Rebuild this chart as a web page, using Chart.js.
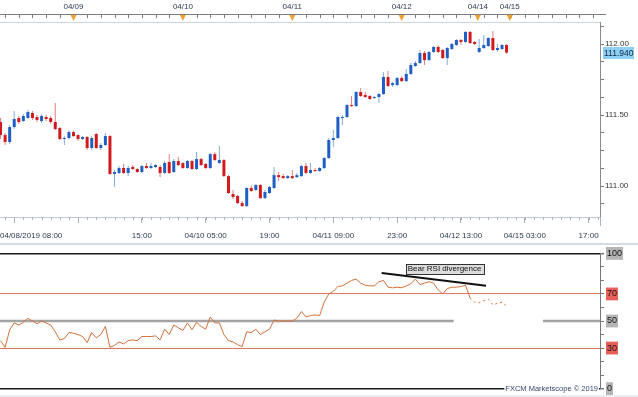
<!DOCTYPE html>
<html><head><meta charset="utf-8">
<script src="https://cdn.jsdelivr.net/npm/chart.js@4.4.1/dist/chart.umd.min.js"></script>
<style>
html,body{margin:0;padding:0;background:#fff;overflow:hidden}
#wrap{position:relative;width:638px;height:397px;background:#fff}
#c1{position:absolute;left:0;top:0}
#c2{position:absolute;left:0;top:245px}
</style></head><body>
<div id="wrap"><canvas id="c1" width="638" height="245"></canvas><canvas id="c2" width="638" height="152"></canvas></div>
<script>
// ---- data (hourly candles, index 0 = 04/08/2019 08:00, weekend skipped) ----
const open = [
111.451,111.359,111.310,111.415,111.479,111.458,111.479,111.514,111.486,111.458,
111.486,111.479,111.451,111.408,111.331,111.338,111.380,111.359,111.331,111.345,
111.268,111.366,111.268,111.289,111.352,111.085,111.092,111.127,111.092,111.134,
111.120,111.099,111.141,111.127,111.134,111.134,111.092,111.169,111.099,111.176,
111.162,111.127,111.176,111.120,111.190,111.155,111.127,111.225,111.162,111.183,
111.070,110.944,110.930,110.880,110.859,110.986,110.972,111.007,110.915,110.951,
110.986,111.077,111.070,111.056,111.070,111.063,111.070,111.141,111.092,111.113,
111.106,111.127,111.197,111.324,111.338,111.479,111.486,111.570,111.563,111.662,
111.641,111.634,111.620,111.627,111.648,111.768,111.711,111.711,111.761,111.739,
111.789,111.845,111.866,111.937,111.887,111.944,111.979,111.958,111.901,111.965,
111.993,112.028,112.014,112.085,112.014,111.944,111.972,111.986,112.042,111.958,
111.965,111.993];
const high = [
111.479,111.373,111.430,111.528,111.493,111.507,111.535,111.528,111.500,111.507,
111.500,111.493,111.585,111.415,111.352,111.394,111.387,111.366,111.352,111.352,
111.352,111.373,111.303,111.373,111.359,111.113,111.141,111.155,111.141,111.148,
111.127,111.148,111.162,111.162,111.155,111.148,111.176,111.225,111.190,111.204,
111.169,111.183,111.183,111.239,111.197,111.162,111.232,111.239,111.282,111.190,
111.077,110.972,110.937,110.894,110.993,111.007,111.014,111.014,110.972,111.000,
111.134,111.099,111.085,111.077,111.113,111.092,111.148,111.162,111.162,111.127,
111.134,111.204,111.338,111.394,111.493,111.500,111.577,111.634,111.669,111.690,
111.662,111.641,111.634,111.655,111.803,111.810,111.732,111.768,111.775,111.824,
111.866,111.880,111.958,111.951,111.951,111.986,111.993,111.965,111.979,112.007,
112.035,112.035,112.092,112.092,112.021,112.035,112.063,112.049,112.092,112.000,
112.000,112.000];
const low = [
111.331,111.289,111.296,111.401,111.437,111.451,111.472,111.465,111.451,111.444,
111.458,111.437,111.394,111.324,111.289,111.331,111.345,111.317,111.324,111.254,
111.254,111.261,111.254,111.282,111.077,110.993,111.085,111.085,111.070,111.113,
111.092,111.092,111.120,111.120,111.127,111.063,111.085,111.085,111.092,111.141,
111.120,111.120,111.113,111.113,111.141,111.120,111.120,111.176,111.155,111.063,
110.944,110.908,110.873,110.852,110.852,110.958,110.965,110.908,110.908,110.944,
110.979,111.035,111.049,111.049,111.049,111.056,111.063,111.085,111.085,111.099,
111.099,111.120,111.190,111.275,111.331,111.430,111.479,111.556,111.556,111.627,
111.620,111.606,111.613,111.585,111.641,111.697,111.697,111.704,111.732,111.732,
111.782,111.838,111.859,111.852,111.880,111.937,111.937,111.894,111.852,111.958,
111.986,111.993,112.007,112.000,111.993,111.937,111.965,111.979,111.951,111.944,
111.958,111.930];
const close = [
111.359,111.310,111.415,111.472,111.451,111.493,111.521,111.479,111.465,111.493,
111.472,111.451,111.401,111.331,111.338,111.380,111.352,111.331,111.345,111.268,
111.338,111.268,111.289,111.352,111.085,111.099,111.127,111.092,111.127,111.120,
111.099,111.141,111.127,111.141,111.148,111.092,111.162,111.092,111.176,111.148,
111.127,111.176,111.120,111.190,111.148,111.127,111.225,111.183,111.183,111.070,
110.951,110.923,110.880,110.859,110.986,110.965,111.007,110.915,110.958,110.993,
111.077,111.063,111.056,111.070,111.056,111.077,111.141,111.092,111.113,111.106,
111.127,111.197,111.324,111.338,111.486,111.486,111.570,111.563,111.662,111.634,
111.627,111.613,111.627,111.648,111.768,111.704,111.725,111.761,111.739,111.789,
111.852,111.866,111.937,111.887,111.944,111.979,111.944,111.901,111.972,112.000,
112.028,112.014,112.085,112.007,112.000,111.972,111.993,112.042,111.958,111.972,
111.993,111.940];
const rsi = [
35.5,30.4,43.5,48.6,47,49,52,50,48,50,
48.5,47,42,36,37,41.5,41,40,38.5,34,
41.5,37.5,40,46,30.5,32,34.5,33,35.5,36,
35.5,38.5,38.5,38.5,39,36,44,40,47,45,
43,48.5,43.5,49,46,44,53,48.6,48.6,40,
35.5,34.5,32.5,31,42,41.4,44,40,42,44,
50.7,50,50,50,50,52,57,53,54,54.5,
54,64,70,72,75.5,76,78,80,81,78,
76.5,76,76,79,80,75,74.5,75,74.6,76,
77.5,81,77,78,79,78,73,70,74,75,
75,75.5,76.5,67,64,63.5,65,66,62,63,
64,61];
const rsiBrokenFrom = 103;
// axis ticks / labels
const topTickIdx = [16,40,64,88,104.7,111.7];
const topTickLabels = ['04/09','04/10','04/11','04/12','04/14','04/15'];
const bottomTickIdx = [3,17,31,45,59,73,87,101,115,129];
const bottomTickLabels = ['','','15:00','04/10 05:00','19:00','04/11 09:00','23:00','04/12 13:00','04/15 03:00','17:00'];
const startLabel = '04/08/2019 08:00';
const priceMajor = [111.00,111.50,112.00];
const rsiLevelTicks = [0,30,50,70,100];
const divergence = [{x:83.6,y:85.5},{x:106.5,y:76}];
const divergenceLabel = 'Bear RSI divergence';
const midLine = [{x:-0.12,y:50},{x:99.4,y:50},{x:100,y:null},{x:119,y:50},{x:131.5,y:50}];
const credit = 'FXCM Marketscope \u00a9 2019';

const XMIN = -0.12, XMAX = 131.5;
const FONT = "'Liberation Sans',Arial,sans-serif";
Chart.defaults.font.family = FONT;
Chart.defaults.font.size = 8;
Chart.defaults.color = '#2a3a50';

const idx = open.map((_, i) => i);
const up = idx.map(i => close[i] >= open[i]);
const BLUE = '#1f5ec4', RED = '#d01a1c', BLUEW = '#86aade', REDW = '#e58080';

const mainPlugin = {
  id: 'mainDecor',
  afterDraw(chart) {
    const ctx = chart.ctx, xs = chart.scales.x, ys = chart.scales.y;
    ctx.save();
    ctx.strokeStyle = '#7d7d7d'; ctx.lineWidth = 1;
    ctx.beginPath(); ctx.moveTo(0, 14.5); ctx.lineTo(606, 14.5);
    for (let i = 1; i <= 131; i += 3) {
      const px = Math.round(xs.getPixelForValue(i)) + 0.5;
      if (px > 604) break;
      ctx.moveTo(px, 14.5); ctx.lineTo(px, 18);
    }
    ctx.stroke();
    ctx.fillStyle = '#f0a133';
    topTickIdx.forEach(v => {
      const px = xs.getPixelForValue(v);
      ctx.beginPath(); ctx.moveTo(px - 3, 15); ctx.lineTo(px + 3, 15); ctx.lineTo(px, 21); ctx.closePath(); ctx.fill();
    });
    ctx.strokeStyle = '#b0b6c0';
    ctx.beginPath();
    for (let i = 1; i <= 131; i += 2) {
      const px = Math.round(xs.getPixelForValue(i)) + 0.5;
      if (px > 599) break;
      ctx.moveTo(px, 217); ctx.lineTo(px, 220);
    }
    ctx.moveTo(600.5, 217); ctx.lineTo(600.5, 226);
    ctx.stroke();
    ctx.font = '8px ' + FONT; ctx.fillStyle = '#2a3a50';
    ctx.textAlign = 'left'; ctx.textBaseline = 'middle';
    ctx.fillText(startLabel, 0, 236);
    const last = close[close.length - 1];
    const py = Math.round(ys.getPixelForValue(last));
    ctx.fillStyle = '#8dd0f3';
    ctx.fillRect(603, py - 6, 31, 12);
    ctx.font = '8.5px ' + FONT; ctx.fillStyle = '#0d2a44';
    ctx.fillText(last.toFixed(3), 604, py + 0.5);
    ctx.strokeStyle = '#d6dce4'; ctx.lineWidth = 2;
    ctx.beginPath(); ctx.moveTo(0, 244); ctx.lineTo(638, 244); ctx.stroke();
    ctx.restore();
  }
};

new Chart(document.getElementById('c1'), {
  type: 'bar',
  data: {
    datasets: [
      { label: 'wick', data: idx.map(i => ({ x: i, y: [low[i], high[i]] })),
        backgroundColor: idx.map(i => up[i] ? BLUEW : REDW), barThickness: 1, grouped: false, order: 2, inflateAmount: 0 },
      { label: 'body', data: idx.map(i => ({ x: i, y: [open[i], close[i]] })),
        backgroundColor: idx.map(i => up[i] ? BLUE : RED), barThickness: 3, grouped: false, order: 1, inflateAmount: 0 }
    ]
  },
  options: {
    responsive: false, animation: false, devicePixelRatio: 1,
    layout: { padding: 0 },
    plugins: { legend: { display: false }, tooltip: { enabled: false } },
    scales: {
      x: {
        type: 'linear', position: 'bottom', min: XMIN, max: XMAX, offset: false,
        afterFit: s => { s.height = 28; },
        afterBuildTicks: s => { s.ticks = bottomTickIdx.map(v => ({ value: v })); },
        ticks: { callback: (v, i) => bottomTickLabels[i], autoSkip: false, maxRotation: 0, padding: 8, color: '#2a3a50' },
        grid: { drawOnChartArea: false, tickLength: 6, tickColor: '#a8b0ba', offset: false },
        border: { display: true, color: '#c4cad2' }
      },
      xTop: {
        type: 'linear', position: 'top', min: XMIN, max: XMAX, offset: false,
        afterFit: s => { s.height = 22; },
        afterBuildTicks: s => { s.ticks = topTickIdx.map(v => ({ value: v })); },
        ticks: { callback: (v, i) => topTickLabels[i], autoSkip: false, maxRotation: 0, padding: 10, color: '#2a3a50' },
        grid: { drawOnChartArea: false, drawTicks: false },
        border: { display: true, color: '#cdd6e0' }
      },
      y: {
        type: 'linear', position: 'right', min: 110.782, max: 112.155,
        afterFit: s => { s.width = 38; },
        afterBuildTicks: s => { const t = []; for (let k = 0; k <= 10; k++) t.push({ value: 110.875 + k * 0.125 }); s.ticks = t; },
        ticks: { callback: v => priceMajor.some(p => Math.abs(p - v) < 1e-6) ? v.toFixed(2) : '', autoSkip: false, padding: 1, color: '#333' },
        grid: { drawOnChartArea: false, tickLength: 4, tickColor: '#777' },
        border: { display: true, color: '#8a8a8a' }
      }
    }
  },
  plugins: [mainPlugin]
});

const rsiPlugin = {
  id: 'rsiDecor',
  afterDraw(chart) {
    const ctx = chart.ctx, xs = chart.scales.x, ys = chart.scales.y;
    ctx.save();
    const cx = xs.getPixelForValue(97.4), cy = ys.getPixelForValue(88.8);
    ctx.font = '8px ' + FONT;
    const w = ctx.measureText(divergenceLabel).width + 4;
    ctx.fillStyle = '#dcdcdc'; ctx.fillRect(Math.round(cx - w / 2) + 0.5, Math.round(cy - 5) + 0.5, Math.round(w), 10);
    ctx.strokeStyle = '#333'; ctx.lineWidth = 1;
    ctx.strokeRect(Math.round(cx - w / 2) + 0.5, Math.round(cy - 5) + 0.5, Math.round(w), 10);
    ctx.fillStyle = '#111'; ctx.textAlign = 'center'; ctx.textBaseline = 'middle';
    ctx.fillText(divergenceLabel, cx, cy + 0.5);
    ctx.font = '7.5px ' + FONT;
    ctx.textAlign = 'right';
    const tw = ctx.measureText(credit).width;
    const by = ys.getPixelForValue(0);
    ctx.fillStyle = '#fff'; ctx.fillRect(598 - tw - 1, by - 5, tw + 2, 10);
    ctx.fillStyle = '#34466e';
    ctx.fillText(credit, 598, by);
    ctx.strokeStyle = '#d6dce4'; ctx.lineWidth = 1;
    ctx.beginPath(); ctx.moveTo(0, 151); ctx.lineTo(638, 151); ctx.stroke();
    ctx.restore();
  }
};

new Chart(document.getElementById('c2'), {
  type: 'line',
  data: {
    datasets: [
      { data: midLine, borderColor: '#a3a3a3', borderWidth: 2.5, pointRadius: 0, spanGaps: false, order: 3 },
      { data: idx.map(i => ({ x: i, y: rsi[i] })), borderColor: '#d2703a', borderWidth: 1, pointRadius: 0, tension: 0, order: 2,
        segment: { borderDash: c => c.p0DataIndex >= rsiBrokenFrom ? [2, 3] : undefined } },
      { data: divergence, borderColor: '#111', borderWidth: 2, pointRadius: 0, order: 1 }
    ]
  },
  options: {
    responsive: false, animation: false, devicePixelRatio: 1,
    layout: { padding: { top: 7, bottom: 6, left: 0, right: 0 } },
    plugins: { legend: { display: false }, tooltip: { enabled: false } },
    scales: {
      x: { type: 'linear', min: XMIN, max: XMAX, display: false, offset: false },
      y: {
        type: 'linear', position: 'right', min: 0, max: 100,
        afterFit: s => { s.width = 38; },
        afterBuildTicks: s => { const t = []; for (let v = 0; v <= 100; v += 10) t.push({ value: v }); s.ticks = t; },
        ticks: {
          autoSkip: false, padding: 3, color: '#111', font: { size: 9 },
          callback: v => rsiLevelTicks.includes(v) ? String(v) : '',
          showLabelBackdrop: c => rsiLevelTicks.includes(c.tick.value),
          backdropColor: c => (c.tick.value === 70 || c.tick.value === 30) ? '#e8605a' : '#b5b5b5',
          backdropPadding: 1
        },
        grid: {
          drawOnChartArea: true, tickLength: 4, tickColor: '#777',
          color: c => (c.tick.value === 0 || c.tick.value === 100) ? '#1a1a1a' : (c.tick.value === 70 || c.tick.value === 30) ? '#e07868' : 'rgba(0,0,0,0)',
          lineWidth: c => (c.tick.value === 0 || c.tick.value === 100) ? 1.5 : 1
        },
        border: { display: true, color: '#777' }
      }
    }
  },
  plugins: [rsiPlugin]
});
</script>
</body></html>
